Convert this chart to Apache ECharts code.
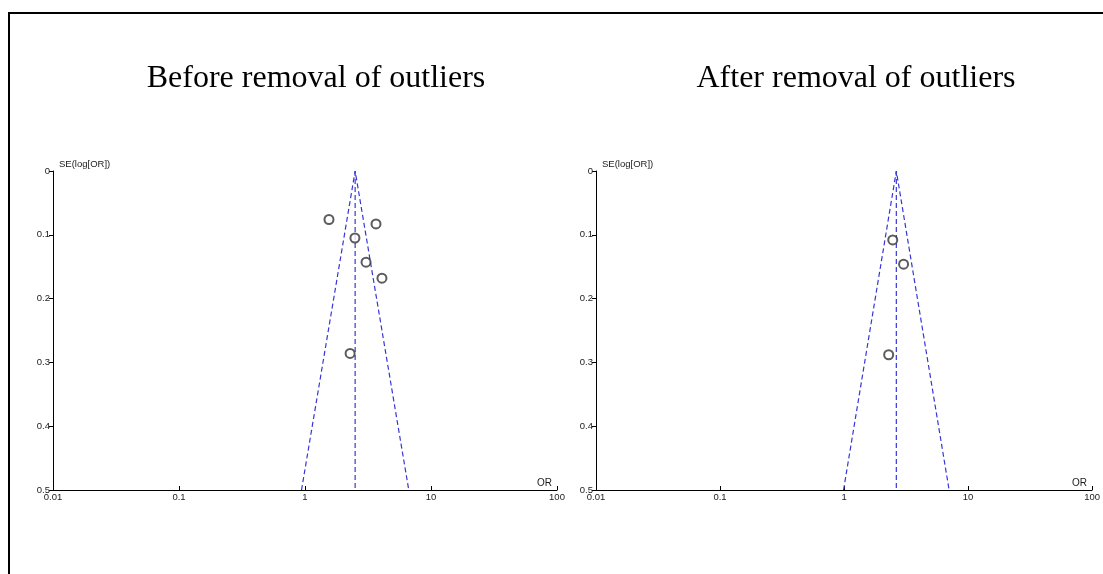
<!DOCTYPE html>
<html>
<head>
<meta charset="utf-8">
<style>
  html, body { margin: 0; padding: 0; background: #fff; }
  #chart { width: 1103px; height: 574px; }
</style>
<script src="https://cdn.jsdelivr.net/npm/echarts@6/dist/echarts.min.js"></script>
</head>
<body>
<div id="chart"></div>
<script>
// Funnel plot data: odds ratio (OR) and standard error of log(OR) per study
const panelTitles = ['Before removal of outliers', 'After removal of outliers'];

const beforeOR = [1.55, 3.66, 2.49, 3.05, 4.08, 2.28];
const beforeSE = [0.076, 0.083, 0.105, 0.143, 0.168, 0.286];
const beforePooledOR = 2.5;

const afterOR = [2.47, 3.02, 2.29];
const afterSE = [0.108, 0.146, 0.288];
const afterPooledOR = 2.64;

const xTickLabels = ['0.01', '0.1', '1', '10', '100'];
const yTickLabels = ['0', '0.1', '0.2', '0.3', '0.4', '0.5'];
const seMax = 0.5;

// 95% pseudo-confidence limits: log(OR) +/- 1.96 * SE
function funnel(pooled) {
  const lo = Math.exp(Math.log(pooled) - 1.96 * seMax);
  const hi = Math.exp(Math.log(pooled) + 1.96 * seMax);
  return [[lo, seMax], [pooled, 0], [hi, seMax]];
}

const chart = echarts.init(document.getElementById('chart'), null, { renderer: 'canvas' });

const grids = [
  { left: 53, top: 171, width: 504, height: 319 },
  { left: 596, top: 171, width: 499, height: 319 }
];

const smallText = { fontFamily: 'Liberation Sans', fontSize: 9.5, color: '#1a1a1a' };

function xAxis(i) {
  return {
    type: 'log', logBase: 10, min: 0.01, max: 100, gridIndex: i,
    position: 'bottom',
    name: 'OR', nameLocation: 'end', nameGap: -20,
    nameTextStyle: Object.assign({}, smallText, { fontSize: 10, verticalAlign: 'bottom', padding: [0, 0, 2, 0] }),
    axisLine: { onZero: false, lineStyle: { color: '#000', width: 1 } },
    axisTick: { show: true, inside: true, length: 4, lineStyle: { color: '#000' } },
    axisLabel: Object.assign({}, smallText, {
      margin: 2,
      formatter: function (v) {
        const k = Math.round(Math.log10(v)) + 2;
        return xTickLabels[k] !== undefined ? xTickLabels[k] : '';
      }
    }),
    splitLine: { show: false }
  };
}

function yAxis(i) {
  return {
    type: 'value', min: 0, max: seMax, interval: 0.1, inverse: true, gridIndex: i,
    name: 'SE(log[OR])', nameLocation: 'start', nameGap: 2,
    nameTextStyle: Object.assign({}, smallText, { align: 'left', padding: [0, 0, 0, 6] }),
    axisLine: { show: true, onZero: false, lineStyle: { color: '#000', width: 1 } },
    axisTick: { show: true, length: 4, lineStyle: { color: '#000' } },
    axisLabel: Object.assign({}, smallText, {
      margin: 3,
      formatter: function (v) { return yTickLabels[Math.round(v * 10)]; }
    }),
    splitLine: { show: false }
  };
}

function panelSeries(i, ors, ses, pooled) {
  const dash = { color: '#3636d8', width: 1.2, type: [5, 3] };
  return [
    {
      type: 'line', xAxisIndex: i, yAxisIndex: i, data: funnel(pooled),
      symbol: 'none', lineStyle: dash, silent: true, z: 2
    },
    {
      type: 'line', xAxisIndex: i, yAxisIndex: i, data: [[pooled, 0], [pooled, seMax]],
      symbol: 'none', lineStyle: dash, silent: true, z: 2
    },
    {
      type: 'scatter', xAxisIndex: i, yAxisIndex: i,
      data: ors.map((v, k) => [v, ses[k]]),
      symbol: 'emptyCircle', symbolSize: 9,
      itemStyle: { color: '#333', borderColor: '#333', borderWidth: 1.1 },
      z: 3
    }
  ];
}

const titleStyle = { fontFamily: 'Liberation Serif', fontSize: 32, fontWeight: 'normal', color: '#000' };

chart.setOption({
  backgroundColor: '#fff',
  animation: false,
  title: [
    { text: panelTitles[0], left: 311, top: 58, textAlign: 'center', textStyle: titleStyle },
    { text: panelTitles[1], left: 851, top: 58, textAlign: 'center', textStyle: titleStyle }
  ],
  graphic: [
    { type: 'polyline', shape: { points: [[9, 574], [9, 13], [1103, 13]] },
      style: { stroke: '#000', lineWidth: 2, fill: null } }
  ],
  grid: grids,
  xAxis: [xAxis(0), xAxis(1)],
  yAxis: [yAxis(0), yAxis(1)],
  series: [].concat(
    panelSeries(0, beforeOR, beforeSE, beforePooledOR),
    panelSeries(1, afterOR, afterSE, afterPooledOR)
  )
});
</script>
</body>
</html>
